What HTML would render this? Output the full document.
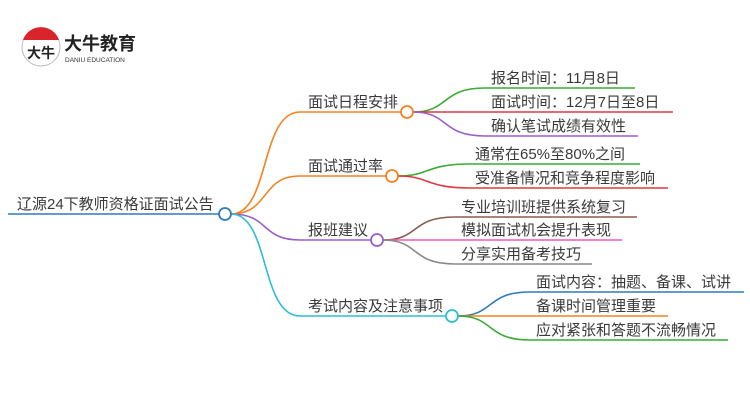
<!DOCTYPE html>
<html><head><meta charset="utf-8"><style>
html,body{margin:0;padding:0;background:#fff;width:750px;height:410px;overflow:hidden}
svg text{font-family:"Liberation Sans","Noto Sans CJK SC",sans-serif;fill:#3a3a3a}
</style></head><body>
<svg width="750" height="410" viewBox="0 0 750 410" xmlns="http://www.w3.org/2000/svg">
<!-- logo -->
<circle cx="41" cy="47" r="19" fill="#fff" stroke="#bbb" stroke-width="1"/>
<path d="M23,40 A19,19 0 0 1 59,40 Z" fill="#d9242b"/>
<text x="27" y="58" font-size="14" font-weight="bold" style="fill:#222">大牛</text>
<text x="64" y="50" font-size="18" font-weight="bold" style="fill:#222">大牛教育</text>
<text x="65" y="62" font-size="6.5" style="fill:#333">DANIU EDUCATION</text>

<g fill="none" stroke-width="1.6">
<line x1="8" y1="214" x2="219" y2="214" stroke="#2f7bbf"/>
<path d="M231,214 C270,214 260,112 300,112 L401,112" stroke="#f58220"/>
<path d="M231,214 C270,214 260,176 300,176 L386,176" stroke="#f58220"/>
<path d="M231,214 C270,214 260,240 300,240 L371,240" stroke="#9a5fc7"/>
<path d="M231,214 C270,214 260,316 300,316 L446,316" stroke="#2bbfd4"/>
<path d="M413,112 C450,112 440,88 485,88 L635,88" stroke="#3aaa35"/>
<path d="M413,112 L673,112" stroke="#e0383e"/>
<path d="M413,112 C450,112 440,136 485,136 L638,136" stroke="#9a5fc7"/>
<path d="M398,176 C430,176 425,164 470,164 L640,164" stroke="#3aaa35"/>
<path d="M398,176 C430,176 425,188 470,188 L668,188" stroke="#e0383e"/>
<path d="M383,240 C420,240 410,217 455,217 L637,217" stroke="#8e5a4a"/>
<path d="M383,240 L622,240" stroke="#e85cb8"/>
<path d="M383,240 C420,240 410,264 455,264 L592,264" stroke="#888"/>
<path d="M458,316 C495,316 485,292 530,292 L744,292" stroke="#2f7bbf"/>
<path d="M458,316 L668,316" stroke="#f58220"/>
<path d="M458,316 C495,316 485,340 530,340 L728,340" stroke="#3aaa35"/>
</g>
<g fill="#fff" stroke-width="1.8">
<circle cx="225" cy="214" r="6" stroke="#2f7bbf"/>
<circle cx="407" cy="112" r="6" stroke="#f58220"/>
<circle cx="392" cy="176" r="6" stroke="#f58220"/>
<circle cx="377" cy="240" r="6" stroke="#9a5fc7"/>
<circle cx="452" cy="316" r="6" stroke="#2bbfd4"/>
</g>
<g font-size="15">
<text x="17" y="209">辽源24下教师资格证面试公告</text>
<text x="308" y="107">面试日程安排</text>
<text x="308" y="171">面试通过率</text>
<text x="308" y="235">报班建议</text>
<text x="308" y="311">考试内容及注意事项</text>
<text x="491" y="83">报名时间：11月8日</text>
<text x="491" y="107">面试时间：12月7日至8日</text>
<text x="491" y="131">确认笔试成绩有效性</text>
<text x="475" y="159">通常在65%至80%之间</text>
<text x="475" y="183">受准备情况和竞争程度影响</text>
<text x="461" y="212">专业培训班提供系统复习</text>
<text x="461" y="235">模拟面试机会提升表现</text>
<text x="461" y="259">分享实用备考技巧</text>
<text x="536" y="287">面试内容：抽题、备课、试讲</text>
<text x="536" y="311">备课时间管理重要</text>
<text x="536" y="335">应对紧张和答题不流畅情况</text>
</g>
</svg>
</body></html>
